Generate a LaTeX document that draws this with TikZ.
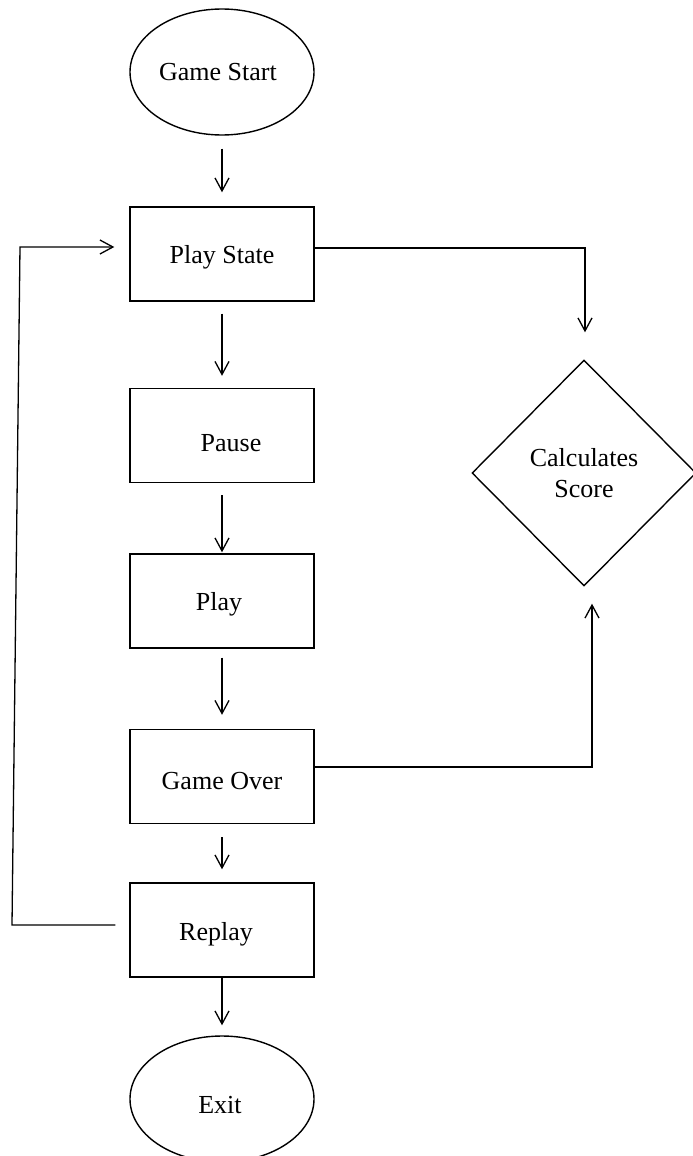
\documentclass[tikz,border=0pt]{standalone}
\usepackage{fontspec}
\setmainfont{Liberation Serif}
\usetikzlibrary{shapes.geometric,arrows.meta,calc}
\begin{document}
\begin{tikzpicture}[x=1pt,y=-1pt,
  txt/.style={font=\fontsize{26}{31}\selectfont},
  shp/.style={draw, line width=1.4pt, inner sep=0pt, txt},
  term/.style={shp, ellipse, minimum width=184pt, minimum height=126pt},
  box/.style={shp, rectangle, minimum width=184pt, minimum height=94pt},
  dec/.style={shp, diamond, minimum width=224pt, minimum height=226pt, align=center},
  arr/.style={line width=1.3pt, -{Straight Barb[length=13pt,width=14pt]}}]
\useasboundingbox (0,0) rectangle (693,1156);

\node[term, label={[txt,xshift=-4pt]center:Game Start}] (gs) at (222,72) {};
\node[box, label={[txt,yshift=-3pt]center:Play State}] (ps) at (222,254) {};
\node[box, label={[txt,xshift=9pt,yshift=-8pt]center:Pause}] (pause) at (222,435.5) {};
\node[box, label={[txt,xshift=-3pt,yshift=-3pt]center:Play}] (play) at (222,601) {};
\node[box, label={[txt,yshift=-5pt]center:Game Over}] (go) at (222,776.5) {};
\node[box, label={[txt,xshift=-6pt,yshift=-4pt]center:Replay}] (replay) at (222,930) {};
\node[term, label={[txt,xshift=-2pt,yshift=-6pt]center:Exit}] (exit) at (222,1099) {};
\node[dec] (cs) at (584,473) {Calculates\\Score};

\coordinate (c1) at (585,248);
\coordinate (c2) at (592,767);
\coordinate (lb) at (12,925);
\coordinate (lt) at (20,247);

\draw[arr, shorten <=13pt, shorten >=14pt] (gs) -- (ps);
\draw[arr, shorten <=12pt, shorten >=12pt] (ps) -- (pause);
\draw[arr, shorten <=12pt, shorten >=1pt] (pause) -- (play);
\draw[arr, shorten <=9pt, shorten >=14pt] (play) -- (go);
\draw[arr, shorten <=13pt, shorten >=13pt] (go) -- (replay);
\draw[arr, shorten >=10pt] (replay) -- (exit);

\draw[arr, shorten >=27pt] (ps.east |- c1) -- (c1) -- (cs.north -| c1);
\draw[arr, shorten >=17pt] (go.east |- c2) -- (c2) -- (cs.south -| c2);
\draw[arr, shorten <=14pt, shorten >=15pt] (replay.west |- lb) -- (lb) -- (lt) -- (ps.west |- lt);
\end{tikzpicture}
\end{document}
